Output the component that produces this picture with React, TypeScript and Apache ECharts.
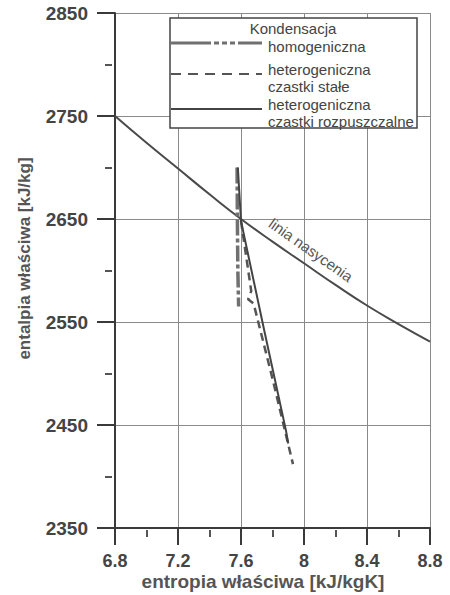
import React, { useEffect, useRef } from "react";
import * as echarts from "echarts";

const saturationS = [6.8, 7.0, 7.2, 7.4, 7.6, 7.8, 8.0, 8.2, 8.4, 8.6, 8.8];
const saturationH = [2750, 2724, 2699, 2674, 2650, 2628, 2607, 2586, 2566, 2548, 2531];

const homogS = [7.575, 7.577, 7.58, 7.585];
const homogH = [2700, 2650, 2600, 2565];

const stałeS = [7.6, 7.665, 7.645, 7.68, 7.8, 7.93];
const stałeH = [2648, 2580, 2572, 2568, 2495, 2412];

const rozpS = [7.58, 7.6, 7.75, 7.885, 7.9];
const rozpH = [2700, 2648, 2540, 2445, 2432];

const xTicks = { min: 6.8, max: 8.8, interval: 0.4 };
const yTicks = { min: 2350, max: 2850, interval: 100 };

const legendTitle = "Kondensacja";
const legendItems = [
  ["homogeniczna"],
  ["heterogeniczna", "czastki stałe"],
  ["heterogeniczna", "czastki rozpuszczalne"],
];

const zip = (a: number[], b: number[]) => a.map((v, i) => [v, b[i]]);

export default function App() {
  const ref = useRef<HTMLDivElement>(null);
  useEffect(() => {
    if (!ref.current) return;
    const chart = echarts.init(ref.current, null, { renderer: "svg" });
    const font = "Liberation Sans";
    const axisColor = "#3a3a3a";
    const minorColor = "#555";
    const legendFont = { fontFamily: font, fontSize: 15, fill: "#444" };

    // helper axes that only carry ticks, offset outwards with ticks pointing back to the axis
    const tickAxis = (range: { min: number; max: number; interval: number }, position: string, offset: number, major: boolean, len: number) => ({
      type: "value",
      min: range.min,
      max: range.max,
      interval: range.interval,
      position,
      offset,
      axisLine: { show: false, onZero: false },
      axisLabel: { show: false },
      splitLine: { show: false },
      axisTick: { show: major, inside: true, length: len, lineStyle: { color: axisColor, width: 2 } },
      minorTick: { show: !major, splitNumber: 2, length: len, lineStyle: { color: minorColor, width: 2 } },
    });

    chart.setOption({
      animation: false,
      grid: { left: 115, right: 20, top: 13, bottom: 67, outerBoundsMode: "none", containLabel: false },
      xAxis: [
        {
          type: "value",
          min: xTicks.min,
          max: xTicks.max,
          interval: xTicks.interval,
          position: "bottom",
          name: "entropia właściwa [kJ/kgK]",
          nameLocation: "middle",
          nameGap: 44,
          nameMoveOverlap: false,
          nameTextStyle: { fontFamily: font, fontSize: 19, fontWeight: "bold", color: "#555", padding: [0, 19, 0, 0] },
          axisLine: { show: true, onZero: false, lineStyle: { color: axisColor, width: 2 } },
          axisTick: { show: false },
          minorTick: { show: false },
          axisLabel: {
            margin: 24,
            fontFamily: font,
            fontSize: 18,
            fontWeight: "bold",
            color: "#444",
            formatter: (v: number) => String(+v.toFixed(1)),
          },
          splitLine: { show: true, lineStyle: { color: "#8a8a8a", width: 1 } },
        },
        tickAxis(xTicks, "bottom", 17, true, 17),
        tickAxis(xTicks, "bottom", 9, false, 7),
      ],
      yAxis: [
        {
          type: "value",
          min: yTicks.min,
          max: yTicks.max,
          interval: yTicks.interval,
          position: "left",
          name: "entalpia właściwa [kJ/kg]",
          nameLocation: "middle",
          nameGap: 82,
          nameMoveOverlap: false,
          nameTextStyle: { fontFamily: font, fontSize: 17, fontWeight: "bold", color: "#555", padding: [0, 0, 0, 24] },
          axisLine: { show: true, onZero: false, lineStyle: { color: axisColor, width: 2 } },
          axisTick: { show: false },
          minorTick: { show: false },
          axisLabel: {
            margin: 27,
            fontFamily: font,
            fontSize: 19,
            fontWeight: "bold",
            color: "#444",
            formatter: (v: number) => String(Math.round(v)),
          },
          splitLine: { show: true, lineStyle: { color: "#8a8a8a", width: 1 } },
        },
        tickAxis(yTicks, "left", 18, true, 18),
        tickAxis(yTicks, "left", 10, false, 7),
      ],
      series: [
        {
          type: "line",
          name: "linia nasycenia",
          data: zip(saturationS, saturationH),
          smooth: true,
          showSymbol: false,
          lineStyle: { color: "#4a4a4a", width: 2 },
        },
        {
          type: "line",
          name: "homogeniczna",
          data: zip(homogS, homogH),
          showSymbol: false,
          lineStyle: { color: "#707070", width: 3.5, type: [16, 3, 4, 3] },
        },
        {
          type: "line",
          name: "heterogeniczna czastki stałe",
          data: zip(stałeS, stałeH),
          showSymbol: false,
          lineStyle: { color: "#555", width: 2.5, type: [8, 5] },
        },
        {
          type: "line",
          name: "heterogeniczna czastki rozpuszczalne",
          data: zip(rozpS, rozpH),
          showSymbol: false,
          lineStyle: { color: "#444", width: 2 },
        },
      ],
      graphic: [
        {
          type: "text",
          x: 311,
          y: 250,
          rotation: (-35 * Math.PI) / 180,
          style: {
            text: "linia nasycenia",
            fontFamily: font,
            fontSize: 15,
            fill: "#555",
            align: "center",
            verticalAlign: "middle",
          },
          z: 10,
        },
        {
          type: "rect",
          shape: { x: 170, y: 18, width: 247, height: 110 },
          style: { fill: "#fff", stroke: "#444", lineWidth: 1.5 },
          z: 20,
        },
        {
          type: "text",
          x: 293,
          y: 28,
          style: { ...legendFont, text: legendTitle, align: "center", verticalAlign: "middle" },
          z: 21,
        },
        {
          type: "line",
          shape: { x1: 171, y1: 43, x2: 262, y2: 43 },
          style: { stroke: "#707070", lineWidth: 3, lineDash: [40, 3, 5, 3, 5, 3, 5, 3] },
          z: 21,
        },
        {
          type: "line",
          shape: { x1: 171, y1: 74, x2: 262, y2: 74 },
          style: { stroke: "#555", lineWidth: 2, lineDash: [10, 7] },
          z: 21,
        },
        {
          type: "line",
          shape: { x1: 171, y1: 109, x2: 262, y2: 109 },
          style: { stroke: "#444", lineWidth: 2 },
          z: 21,
        },
        {
          type: "text",
          x: 268,
          y: 46,
          style: { ...legendFont, text: legendItems[0][0], verticalAlign: "middle" },
          z: 21,
        },
        {
          type: "text",
          x: 268,
          y: 69,
          style: { ...legendFont, text: legendItems[1][0], verticalAlign: "middle" },
          z: 21,
        },
        {
          type: "text",
          x: 268,
          y: 86,
          style: { ...legendFont, text: legendItems[1][1], verticalAlign: "middle" },
          z: 21,
        },
        {
          type: "text",
          x: 268,
          y: 104,
          style: { ...legendFont, text: legendItems[2][0], verticalAlign: "middle" },
          z: 21,
        },
        {
          type: "text",
          x: 268,
          y: 121,
          style: { ...legendFont, text: legendItems[2][1], verticalAlign: "middle" },
          z: 21,
        },
      ],
    });
    return () => chart.dispose();
  }, []);
  return <div ref={ref} style={{ width: 450, height: 595, position: "absolute", left: 0, top: 0 }} />;
}
